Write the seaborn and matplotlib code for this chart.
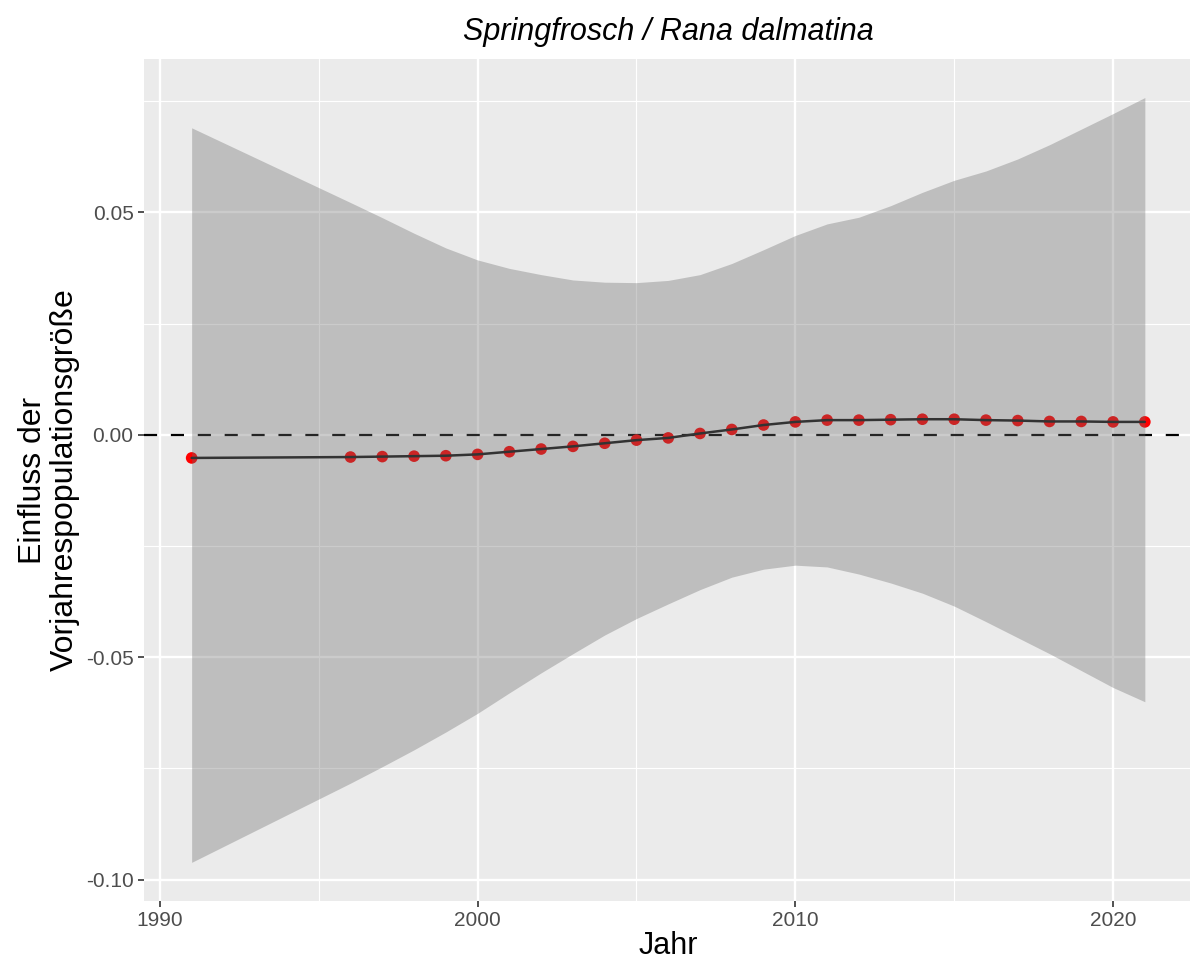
import matplotlib
matplotlib.use("Agg")
import matplotlib.pyplot as plt
import seaborn as sns
import numpy as np

# Estimated effect of the previous year's population size, per year
years = [1991, 1996, 1997, 1998, 1999, 2000, 2001, 2002, 2003, 2004, 2005,
         2006, 2007, 2008, 2009, 2010, 2011, 2012, 2013, 2014, 2015, 2016,
         2017, 2018, 2019, 2020, 2021]
effect = [-0.0052, -0.0050, -0.0049, -0.0048, -0.0047, -0.0044, -0.0038,
          -0.0032, -0.0026, -0.0019, -0.0012, -0.0007, 0.0003, 0.0012,
          0.0022, 0.0029, 0.0033, 0.0033, 0.0034, 0.0035, 0.0035, 0.0033,
          0.0032, 0.0030, 0.0030, 0.0029, 0.0029]
ci_lower = [-0.0961, -0.0783, -0.0746, -0.0708, -0.0668, -0.0626, -0.0580,
            -0.0535, -0.0492, -0.0450, -0.0413, -0.0380, -0.0348, -0.0320,
            -0.0302, -0.0293, -0.0297, -0.0313, -0.0333, -0.0356, -0.0385,
            -0.0420, -0.0456, -0.0492, -0.0530, -0.0568, -0.0600]
ci_upper = [0.0690, 0.0522, 0.0488, 0.0453, 0.0420, 0.0393, 0.0374, 0.0360,
            0.0348, 0.0343, 0.0342, 0.0347, 0.0360, 0.0385, 0.0416, 0.0448,
            0.0474, 0.0489, 0.0515, 0.0545, 0.0572, 0.0593, 0.0620, 0.0652,
            0.0687, 0.0722, 0.0758]

x_major = [1990, 2000, 2010, 2020]
x_minor = [1995, 2005, 2015]
y_major = [-0.10, -0.05, 0.00, 0.05]
y_minor = [-0.075, -0.025, 0.025, 0.075]

title = "Springfrosch / Rana dalmatina"
xlabel = "Jahr"
ylabel = "Einfluss der\nVorjahrespopulationsgröße"

sns.set_theme(style="darkgrid", rc={
    "axes.facecolor": "#EBEBEB",
    "figure.facecolor": "white",
    "grid.color": "white",
    "axes.edgecolor": "none",
})
plt.rcParams["font.family"] = ["Liberation Sans", "DejaVu Sans"]

fig = plt.figure(figsize=(11.9, 9.63), dpi=100)
ax = fig.add_axes([0.121, 0.0648, 0.8811, 0.8736])

# zero reference line
ax.axhline(0, color="black", lw=1.6, ls=(0, (5.9, 6.2)), zorder=1.5)

# yearly estimates
sns.scatterplot(x=years, y=effect, color="#FF0000", s=70, edgecolor="none",
                linewidth=0, ax=ax, zorder=2)

# confidence band drawn over the points
ax.fill_between(years, ci_lower, ci_upper, color="#6B6B6B", alpha=0.35,
                linewidth=0, zorder=3)

# smoothed trend
sns.lineplot(x=years, y=effect, color="#333333", lw=1.8, ax=ax, zorder=4)

# limits with 5% expansion, as in the data range
xr = max(years) - min(years)
ax.set_xlim(min(years) - 0.05 * xr, max(years) + 0.05 * xr)
ylo, yhi = min(ci_lower), max(ci_upper)
yr = yhi - ylo
ax.set_ylim(ylo - 0.05 * yr, yhi + 0.05 * yr)

ax.set_xticks(x_major)
ax.set_xticks(x_minor, minor=True)
ax.set_xticklabels([str(v) for v in x_major])
ax.set_yticks(y_major)
ax.set_yticks(y_minor, minor=True)
ax.set_yticklabels([f"{v:.2f}" for v in y_major])

ax.grid(which="major", color="white", lw=1.7)
ax.grid(which="minor", color="white", lw=0.85)
ax.tick_params(which="major", length=4.5, width=1.2, color="#333333",
               labelsize=15, labelcolor="#4D4D4D", pad=3, bottom=True, left=True)
ax.tick_params(which="minor", length=0)

for s in ax.spines.values():
    s.set_visible(False)

ax.set_xlabel(xlabel, fontsize=22, color="black", labelpad=1)
ax.set_ylabel(ylabel, fontsize=23, color="black", labelpad=4, linespacing=1.1)
ax.set_title(title, fontsize=22, style="italic", color="black", pad=14)

fig.savefig("out.png", dpi=100)
